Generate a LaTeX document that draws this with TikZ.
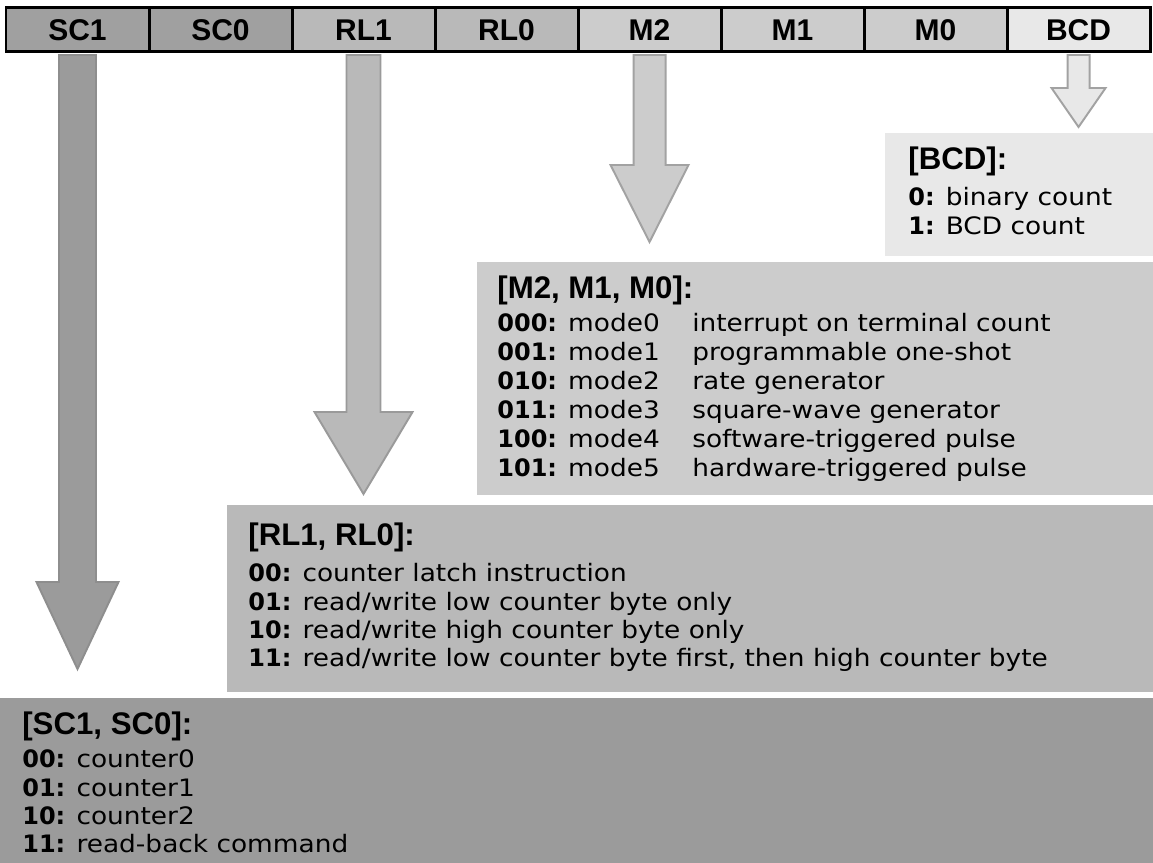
\documentclass[tikz,border=0pt]{standalone}
\usepackage{fontspec}
\setmainfont{DejaVu Sans}[FakeStretch=1.1]
\newfontfamily\codefont{DejaVu Sans Bold}
\newfontfamily\arialfont{Liberation Sans}
\usetikzlibrary{positioning}

\definecolor{scfill}{HTML}{A0A0A0}
\definecolor{rlfill}{HTML}{B9B9B9}
\definecolor{mfill}{HTML}{CCCCCC}
\definecolor{bcdfill}{HTML}{E8E8E8}
\definecolor{scline}{HTML}{8E8E8E}
\definecolor{rlline}{HTML}{9A9A9A}
\definecolor{mline}{HTML}{A2A2A2}

\newcommand{\cellfont}{\arialfont\bfseries\fontsize{17pt}{20pt}\selectfont}
\newcommand{\headfont}{\arialfont\bfseries\fontsize{17.7pt}{20pt}\selectfont}
\newcommand{\bodyfont}{\fontsize{13.6pt}{15.9pt}\selectfont}
\newcommand{\code}[1]{{\codefont #1:}}
% block arrow hanging under a cell: style, cell, shaft half, head half, head top, tip
\newcommand{\bararrow}[6]{\filldraw[#1, shift={(#2.south)}] (-#3,3) -- (-#3,#5) -- (-#4,#5) -- (0,#6) -- (#4,#5) -- (#3,#5) -- (#3,3) -- cycle;}
\newcommand{\mrow}[3]{\makebox[110.5pt][l]{\code{#1} #2}#3}

\begin{document}
\begin{tikzpicture}[x=0.5669pt, y=-0.5669pt,
  cell/.style={draw=black, line width=1.7pt, minimum width=81.07pt, minimum height=24.94pt, outer sep=0pt, inner sep=0pt, font=\cellfont},
  infobox/.style={anchor=north west, inner sep=0pt, outer sep=0pt},
  boxtext/.style={anchor=north west, inner sep=0pt, align=left, font=\bodyfont},
  arrowsty/.style={line width=1.1pt, line join=miter}]
  \useasboundingbox (0,0) rectangle (1153,863);

  % control word
  \node[cell, fill=scfill, anchor=north west] (sc1) at (6,8) {SC1};
  \node[cell, fill=scfill, right=0pt of sc1] (sc0) {SC0};
  \node[cell, fill=rlfill, right=0pt of sc0] (rl1) {RL1};
  \node[cell, fill=rlfill, right=0pt of rl1] (rl0) {RL0};
  \node[cell, fill=mfill, right=0pt of rl0] (m2) {M2};
  \node[cell, fill=mfill, right=0pt of m2] (m1) {M1};
  \node[cell, fill=mfill, right=0pt of m1] (m0) {M0};
  \node[cell, fill=bcdfill, right=0pt of m0] (bcd) {BCD};

  % field boxes
  \node[infobox, fill=bcdfill, minimum width=151.93pt, minimum height=69.73pt] (bcdbox) at (885,133) {};
  \node[infobox, fill=mfill, minimum width=383.22pt, minimum height=132.09pt] (mbox) at (477,262) {};
  \node[infobox, fill=rlfill, minimum width=524.95pt, minimum height=106.01pt] (rlbox) at (227,505) {};
  \node[infobox, fill=scfill!97!black, minimum width=653.64pt, minimum height=93.54pt] (scbox) at (0,698) {};

  \node[boxtext] (bcdtext) at ([shift={(23,14)}]bcdbox.north west)
    {{\headfont [BCD]:}\\[4.5pt] \code{0} binary count\\ \code{1} BCD count};
  \node[boxtext, font=\fontsize{13.6pt}{16.44pt}\selectfont] (mtext) at ([shift={(20,14)}]mbox.north west)
    {{\headfont [M2, M1, M0]:}\\[2pt]
     \mrow{000}{mode0}{interrupt on terminal count}\\
     \mrow{001}{mode1}{programmable one-shot}\\
     \mrow{010}{mode2}{rate generator}\\
     \mrow{011}{mode3}{square-wave generator}\\
     \mrow{100}{mode4}{software-triggered pulse}\\
     \mrow{101}{mode5}{hardware-triggered pulse}};
  \node[boxtext] (rltext) at ([shift={(21,18)}]rlbox.north west)
    {{\headfont [RL1, RL0]:}\\[4.5pt]
     \code{00} counter latch instruction\\
     \code{01} read/write low counter byte only\\
     \code{10} read/write high counter byte only\\
     \code{11} read/write low counter byte first, then high counter byte};
  \node[boxtext] (sctext) at ([shift={(22,14)}]scbox.north west)
    {{\headfont [SC1, SC0]:}\\[2.8pt]
     \code{00} counter0\\
     \code{01} counter1\\
     \code{10} counter2\\
     \code{11} read-back command};

  % arrows
  \bararrow{arrowsty, fill=scfill!97!black, draw=scline}{sc1}{18.5}{41}{530}{617}
  \bararrow{arrowsty, fill=rlfill, draw=rlline}{rl1}{17}{49}{360}{442}
  \bararrow{arrowsty, fill=mfill, draw=mline}{m2}{16}{39}{113}{190}
  \bararrow{arrowsty, fill=bcdfill, draw=mline}{bcd}{11}{27}{36}{75}
\end{tikzpicture}
\end{document}
